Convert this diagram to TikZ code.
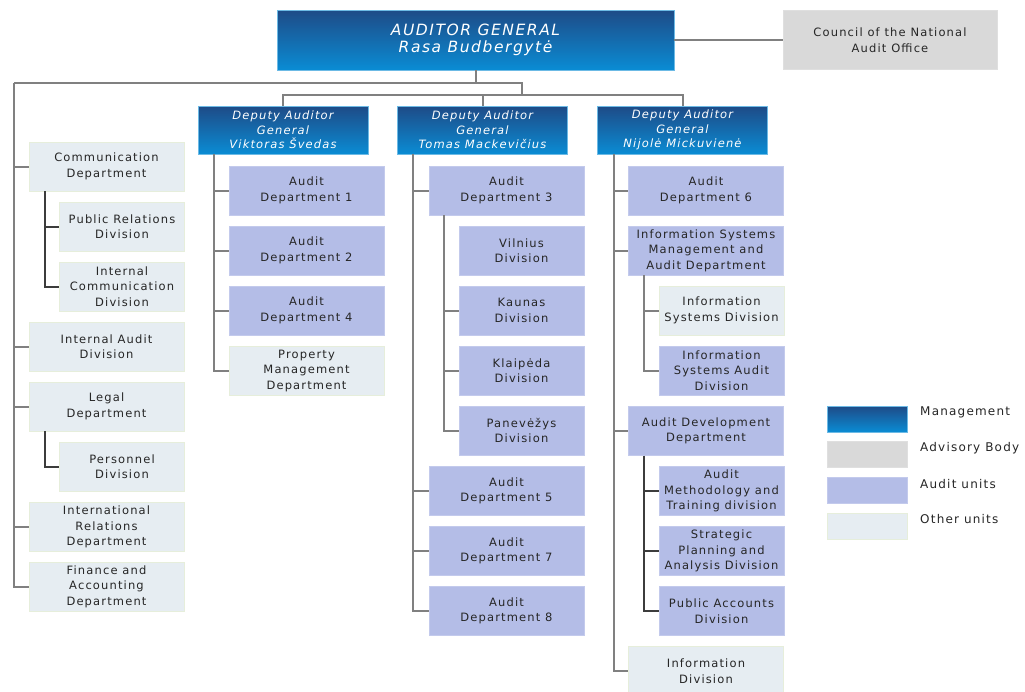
\documentclass[tikz,border=0pt]{standalone}
\usepackage{fontspec}
\setmainfont{DejaVu Sans}[LetterSpace=10]
\definecolor{audit}{HTML}{B4BDE7}
\definecolor{auditedge}{HTML}{C3CAEC}
\definecolor{other}{HTML}{E6EDF2}
\definecolor{otheredge}{HTML}{E6EEDB}
\definecolor{advisory}{HTML}{D9D9D9}
\definecolor{mgtop}{HTML}{1E4B87}
\definecolor{mgbot}{HTML}{0A8CD4}
\definecolor{linkgray}{HTML}{808080}
\definecolor{linkdark}{HTML}{3C3C3C}
\begin{document}
\begin{tikzpicture}[x=1pt,y=-1pt,
  every node/.style={font=\fontsize{11.5}{15.5}\selectfont, align=center, inner sep=0pt, text=black!85},
  box/.style={rectangle, minimum height=49pt},
  wide/.style={box, minimum width=155pt},
  narrow/.style={box, minimum width=125pt},
  auditunit/.style={fill=audit, draw=auditedge, line width=0.6pt},
  otherunit/.style={fill=other, draw=otheredge, line width=0.6pt},
  advisoryunit/.style={fill=advisory, draw=advisory!85!white, line width=0.6pt},
  mgmt/.style={top color=mgtop, bottom color=mgbot, draw=mgbot!60!white, line width=0.5pt, text=white},
  deputy/.style={mgmt, minimum width=170pt, minimum height=48pt, font=\fontsize{11.5}{14.5}\selectfont\itshape},
  legendbox/.style={rectangle, minimum width=80pt, minimum height=26pt},
  legendtext/.style={anchor=west, font=\fontsize{12}{14}\selectfont},
  link/.style={draw=linkgray, line width=2pt},
  sublink/.style={draw=linkdark, line width=2pt}
]
\useasboundingbox (0,0) rectangle (1025,691);

% top level
\node[mgmt, minimum width=397pt, minimum height=60pt, font=\fontsize{15.5}{17}\selectfont\itshape] (ag) at (475.5,40) {AUDITOR GENERAL\\Rasa Budbergytė};
\node[advisoryunit, minimum width=214pt, minimum height=59pt] (council) at (890,40) {Council of the National\\Audit Office};

% deputies
\node[deputy] (d1) at (283,130) {Deputy Auditor\\General\\Viktoras Švedas};
\node[deputy] (d2) at (482.5,130) {Deputy Auditor\\General\\Tomas Mackevičius};
\node[deputy] (d3) at (682.5,130) {Deputy Auditor\\General\\Nijolė Mickuvienė};

% units reporting to the Auditor General
\node[wide,otherunit] (comm) at (106.5,166.5) {Communication\\Department};
\node[narrow,otherunit] (pr) at (122,226.5) {Public Relations\\Division};
\node[narrow,otherunit] (icd) at (122,286.5) {Internal\\Communication\\Division};
\node[wide,otherunit] (iad) at (106.5,346.5) {Internal Audit\\Division};
\node[wide,otherunit] (legal) at (106.5,406.5) {Legal\\Department};
\node[narrow,otherunit] (pers) at (122,466.5) {Personnel\\Division};
\node[wide,otherunit] (ird) at (106.5,527) {International\\Relations\\Department};
\node[wide,otherunit] (fad) at (106.5,586.5) {Finance and\\Accounting\\Department};

% first deputy
\node[wide,auditunit] (ad1) at (306.5,190.5) {Audit\\Department 1};
\node[wide,auditunit] (ad2) at (306.5,250.5) {Audit\\Department 2};
\node[wide,auditunit] (ad4) at (306.5,310.5) {Audit\\Department 4};
\node[wide,otherunit] (pmd) at (306.5,370.5) {Property\\Management\\Department};

% second deputy
\node[wide,auditunit] (ad3) at (506.5,190.5) {Audit\\Department 3};
\node[narrow,auditunit] (vil) at (521.5,250.5) {Vilnius\\Division};
\node[narrow,auditunit] (kau) at (521.5,310.5) {Kaunas\\Division};
\node[narrow,auditunit] (kla) at (521.5,370.5) {Klaipėda\\Division};
\node[narrow,auditunit] (pan) at (521.5,430.5) {Panevėžys\\Division};
\node[wide,auditunit] (ad5) at (506.5,491) {Audit\\Department 5};
\node[wide,auditunit] (ad7) at (506.5,551) {Audit\\Department 7};
\node[wide,auditunit] (ad8) at (506.5,611) {Audit\\Department 8};

% third deputy
\node[wide,auditunit] (ad6) at (706,190.5) {Audit\\Department 6};
\node[wide,auditunit] (isma) at (706,250.5) {Information Systems\\Management and\\Audit Department};
\node[narrow,otherunit] (isd) at (721.5,310.5) {Information\\Systems Division};
\node[narrow,auditunit] (isad) at (721.5,370.5) {Information\\Systems Audit\\Division};
\node[wide,auditunit] (add) at (706,431) {Audit Development\\Department};
\node[narrow,auditunit] (amt) at (721.5,491) {Audit\\Methodology and\\Training division};
\node[narrow,auditunit] (spa) at (721.5,551) {Strategic\\Planning and\\Analysis Division};
\node[narrow,auditunit] (pad) at (721.5,611) {Public Accounts\\Division};
\node[wide,otherunit] (infd) at (706,671) {Information\\Division};

% legend
\node[legendbox,mgmt] (lgm) at (867,419) {};
\node[legendbox,advisoryunit] (lga) at (867,454.5) {};
\node[legendbox,auditunit] (lgu) at (867,490.5) {};
\node[legendbox,otherunit] (lgo) at (867,526.5) {};
\node[legendtext] (lgmt) at (920,412) {Management};
\node[legendtext] (lgat) at (920,448) {Advisory Body};
\node[legendtext] (lgut) at (920,484) {Audit units};
\node[legendtext] (lgot) at (920,519) {Other units};

% connector guide points
\coordinate (hub) at (476,83);
\coordinate (lbus) at (14,83);
\coordinate (rbus) at (522,83);
\coordinate (dbus) at (522,95);
\coordinate (sx1) at (45,0);
\coordinate (c1) at (214,0);
\coordinate (c2) at (413,0);
\coordinate (s2) at (444,0);
\coordinate (c3) at (614,0);
\coordinate (s3) at (644,0);

% top connectors
\draw[link] (ag.east) -- (council.west);
\draw[link] (ag.south -| hub) -- (hub);
\draw[link] (lbus) -- (rbus) -- (dbus);
\draw[link] (d1.north) -- (d1.north |- dbus) -| (d3.north);
\draw[link] (d2.north) -- (d2.north |- dbus);

% left trunk
\foreach \n in {comm,iad,legal,ird,fad}
  \draw[link] (lbus) |- (\n.west);
\foreach \n in {pr,icd}
  \draw[sublink] (comm.south -| sx1) |- (\n.west);
\draw[sublink] (legal.south -| sx1) |- (pers.west);

% first deputy trunk
\foreach \n in {ad1,ad2,ad4,pmd}
  \draw[link] (d1.south -| c1) |- (\n.west);

% second deputy trunk
\foreach \n in {ad3,ad5,ad7,ad8}
  \draw[link] (d2.south -| c2) |- (\n.west);
\foreach \n in {kau,kla,pan}
  \draw[link] (ad3.south -| s2) |- (\n.west);

% third deputy trunk
\foreach \n in {ad6,isma,add,infd}
  \draw[link] (d3.south -| c3) |- (\n.west);
\foreach \n in {isd,isad}
  \draw[link] (isma.south -| s3) |- (\n.west);
\foreach \n in {amt,spa,pad}
  \draw[sublink] (add.south -| s3) |- (\n.west);
\end{tikzpicture}
\end{document}
